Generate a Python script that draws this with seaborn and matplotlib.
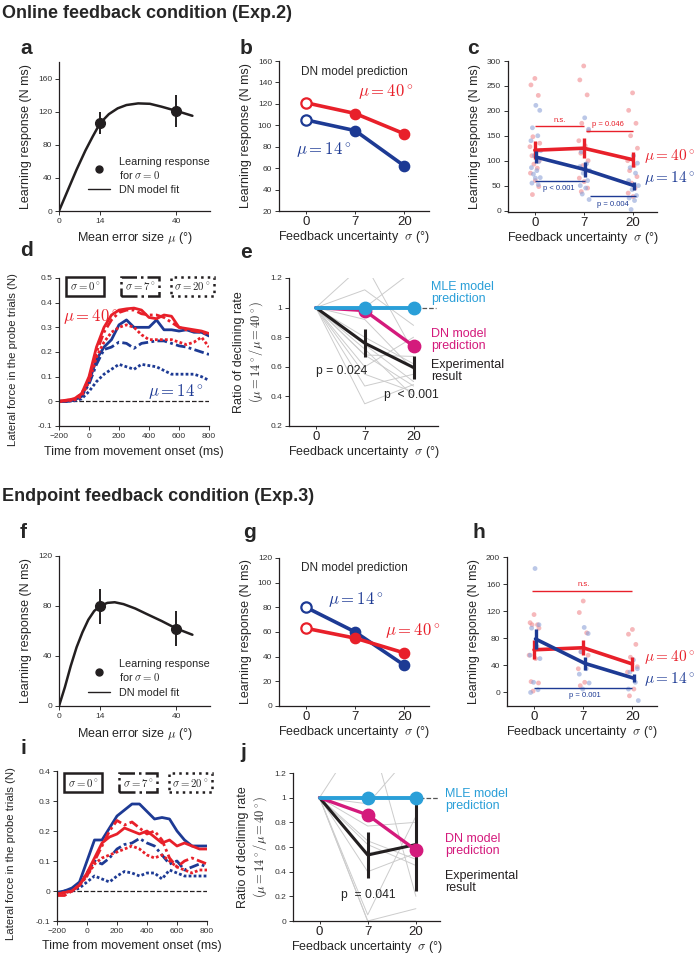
import numpy as np
import pandas as pd
import seaborn as sns
import matplotlib.pyplot as plt
from matplotlib.lines import Line2D

# ---------------- data ----------------
sigma_labels = ["0", "7", "20"]
mu_points = [14, 40]

# a / f : learning response for sigma = 0 and DN model fit
a_resp = [106, 121]
a_err = [13, 19]
a_fit_mu = [0, 3, 6, 9, 11.5, 14, 17, 20, 23, 27, 31, 35, 40, 45.5]
a_fit = [0, 25, 50, 73, 90, 106, 117, 124, 128, 130, 129.5, 126, 121, 115]

f_resp = [80, 62]
f_err = [14, 14]
f_fit_mu = [0, 2, 4, 6, 8, 10, 12, 14, 16.5, 19, 22, 26, 30, 35, 40, 45.5]
f_fit = [0, 15, 32, 47, 59, 69, 76, 80, 82.5, 83, 81.5, 78, 73.5, 68, 62, 57]

# b / g : DN model prediction
b_mu40 = [121, 111, 92]
b_mu14 = [105, 95, 62]
g_mu40 = [63, 55, 43]
g_mu14 = [80, 60, 33]

# c / h : experimental means
c_mu40 = [121, 125, 102]
c_mu40_err = [18, 20, 15]
c_mu14 = [107, 82, 50]
c_mu14_err = [12, 15, 8]
h_mu40 = [63, 66, 42]
h_mu40_err = [14, 11, 10]
h_mu14 = [79, 43, 21]
h_mu14_err = [15, 10, 6]

# individual participants (c, h)
c_pts40 = [[265, 252, 231, 148, 135, 128, 118, 110, 100, 93, 85, 75, 60, 48, 32],
           [290, 262, 232, 175, 160, 140, 130, 115, 100, 90, 80, 65, 58, 45, 38],
           [236, 201, 175, 150, 125, 100, 90, 80, 68, 55, 45, 35, 28]]
c_pts14 = [[211, 201, 166, 150, 140, 120, 110, 98, 86, 80, 73, 66, 65, 55, 52],
           [186, 163, 118, 94, 88, 80, 75, 60, 50, 45, 33, 22],
           [110, 95, 86, 75, 60, 50, 42, 30, 25, 20, 2]]
h_pts40 = [[115, 103, 100, 100, 95, 55, 50, 16, 14, 2],
           [135, 118, 88, 60, 55, 35, 15, 10],
           [93, 86, 71, 52, 38, 30, 5, -5]]
h_pts14 = [[183, 100, 95, 68, 55, 50, 15, 4, 0],
           [96, 87, 60, 35, 27, 14, 5],
           [48, 35, 30, 15, 5, -12]]

# d / i : lateral force time courses (every 50 ms from -200 to 800)
time_ms = list(range(-200, 801, 50))
d_force = {
    (40, 0): [0, 0.005, 0.01, 0.03, 0.10, 0.22, 0.30, 0.35, 0.37, 0.375, 0.378, 0.37, 0.34, 0.335,
              0.35, 0.345, 0.30, 0.295, 0.29, 0.285, 0.275],
    (40, 7): [0, 0.003, 0.01, 0.03, 0.09, 0.20, 0.28, 0.33, 0.36, 0.37, 0.37, 0.355, 0.35, 0.35,
              0.34, 0.32, 0.30, 0.29, 0.285, 0.28, 0.27],
    (40, 20): [0, 0.002, 0.005, 0.02, 0.08, 0.18, 0.24, 0.28, 0.30, 0.31, 0.30, 0.27, 0.25, 0.25,
               0.25, 0.25, 0.24, 0.23, 0.24, 0.26, 0.22],
    (14, 0): [0, 0, 0.005, 0.02, 0.08, 0.17, 0.22, 0.25, 0.31, 0.33, 0.30, 0.30, 0.30, 0.33,
              0.29, 0.29, 0.285, 0.29, 0.28, 0.28, 0.265],
    (14, 7): [0, 0, 0.005, 0.02, 0.07, 0.15, 0.21, 0.22, 0.24, 0.235, 0.215, 0.235, 0.24, 0.245,
              0.245, 0.235, 0.225, 0.22, 0.21, 0.20, 0.19],
    (14, 20): [0, 0, 0.002, 0.01, 0.04, 0.08, 0.11, 0.13, 0.15, 0.14, 0.13, 0.15, 0.145, 0.14,
               0.125, 0.11, 0.11, 0.11, 0.11, 0.10, 0.085],
}
i_force = {
    (14, 0): [-0.01, 0.0, 0.01, 0.03, 0.10, 0.17, 0.17, 0.21, 0.25, 0.27, 0.29, 0.29, 0.265, 0.24,
              0.245, 0.24, 0.20, 0.17, 0.15, 0.15, 0.15],
    (40, 0): [-0.01, -0.005, 0.0, 0.02, 0.06, 0.11, 0.16, 0.18, 0.19, 0.21, 0.20, 0.19, 0.20, 0.18,
              0.16, 0.17, 0.15, 0.16, 0.15, 0.14, 0.14],
    (40, 7): [-0.015, -0.015, 0.0, 0.02, 0.05, 0.10, 0.15, 0.20, 0.235, 0.22, 0.23, 0.21, 0.19, 0.20,
              0.17, 0.11, 0.08, 0.10, 0.11, 0.10, 0.09],
    (14, 7): [-0.005, 0.0, 0.005, 0.02, 0.06, 0.10, 0.09, 0.11, 0.14, 0.155, 0.16, 0.175, 0.16, 0.15,
              0.12, 0.09, 0.10, 0.07, 0.08, 0.09, 0.08],
    (40, 20): [-0.01, -0.005, 0.0, 0.02, 0.05, 0.09, 0.11, 0.12, 0.13, 0.14, 0.15, 0.14, 0.12, 0.11,
               0.12, 0.10, 0.08, 0.07, 0.06, 0.07, 0.07],
    (14, 20): [-0.01, -0.005, 0.0, 0.01, 0.03, 0.05, 0.04, 0.03, 0.05, 0.065, 0.06, 0.05, 0.06, 0.06,
               0.04, 0.07, 0.06, 0.05, 0.05, 0.05, 0.05],
}

# e / j : ratio of declining rate
e_mle = [1, 1, 1]
e_dn = [1, 0.98, 0.74]
e_exp = [1, 0.76, 0.595]
e_exp_err = [0, 0.095, 0.075]
e_subj7 = [1.30, 1.12, 1.00, 0.92, 0.80, 0.75, 0.68, 0.68, 0.60, 0.55, 0.47, 0.35, 0.72]
e_subj20 = [0.70, 0.88, 1.25, 0.58, 0.62, 0.50, 0.67, 0.47, 0.80, 0.43, 0.55, 0.48, 0.40]

j_mle = [1, 1, 1]
j_dn = [1, 0.86, 0.575]
j_exp = [1, 0.535, 0.62]
j_exp_err = [0, 0.185, 0.375]
j_subj7 = [1.60, 0.95, 0.77, 0.65, 0.55, 0.40, 0.05, 0.0, 0.0, 0.62]
j_subj20 = [0.20, 1.40, 0.80, 0.50, 0.62, 0.55, 0.85, 0.0, 0.10, 0.45]

# ---------------- style ----------------
sns.set_theme(style="ticks")
plt.rcParams['font.family'] = ['Liberation Sans', 'DejaVu Sans']
plt.rcParams['mathtext.fontset'] = 'cm'

RED = '#e8202a'
BLUE = '#1d3a94'
MLE_C = '#2a9fd8'
DN_C = '#d41a7c'
BLK = '#231f20'
JIT = [0.0, -0.08, 0.07, -0.04, 0.10, -0.10, 0.03, -0.06, 0.09, -0.02, 0.05, -0.09, 0.01, 0.08, -0.05]
pos = np.arange(3)

fig = plt.figure(figsize=(7, 9.58), dpi=100)


def add_ax(l, t, r, b):
    return fig.add_axes([l / 700, 1 - b / 958, (r - l) / 700, (b - t) / 958])


def style(ax):
    sns.despine(ax=ax)
    ax.tick_params(axis='both', length=3, width=0.7, labelsize=6, colors='#333333', pad=2)
    for s in ['left', 'bottom']:
        ax.spines[s].set_linewidth(0.9)
        ax.spines[s].set_color(BLK)


def cat_x(ax):
    ax.set_xlim(-0.55, 2.5)
    ax.set_xticks(pos)
    ax.set_xticklabels(sigma_labels)
    ax.tick_params(axis='x', labelsize=9.5, labelcolor=BLK, length=2, pad=1.5)
    ax.set_xlabel(r"Feedback uncertainty  $\sigma$ (°)", fontsize=9, labelpad=1)


def letter(x, y, s):
    fig.text(x / 700, 1 - y / 958, s, fontsize=15, fontweight='bold', va='center', ha='left')


def panel_fit(ax, resp, err, fit_mu, fit, ylim, yticks, leg_y):
    sns.lineplot(x=fit_mu, y=fit, ax=ax, color=BLK, lw=1.8)
    ax.errorbar(mu_points, resp, yerr=err, fmt='o', color=BLK, ms=7, elinewidth=1.4, capsize=0)
    ax.set_xlim(0, 51.5)
    ax.set_ylim(*ylim)
    ax.set_xticks([0, 14, 40])
    ax.set_yticks(yticks)
    style(ax)
    ax.set_xlabel(r"Mean error size $\mu$ (°)", fontsize=9)
    ax.set_ylabel("Learning response (N ms)", fontsize=9)
    handles = [Line2D([], [], marker='o', ls='', color=BLK, ms=5),
               Line2D([], [], color=BLK, lw=1)]
    labels = ["Learning response\nfor $\\sigma = 0$", "DN model fit"]
    ax.legend(handles, labels, loc='lower left', bbox_to_anchor=(0.13, leg_y), frameon=False,
              fontsize=7.8, handlelength=2, handletextpad=0.8, labelspacing=0.4)


def panel_dn(ax, v40, v14, ylim, yticks, order):
    df = pd.DataFrame({'pos': np.tile(pos, 2), 'resp': v40 + v14,
                       'mu': ['40'] * 3 + ['14'] * 3})
    for mu in order:
        sub = df[df.mu == mu]
        col = RED if mu == '40' else BLUE
        sns.lineplot(data=sub, x='pos', y='resp', ax=ax, color=col, lw=2.6)
        ax.scatter(sub.pos[1:], sub.resp[1:], s=55, color=col, zorder=3)
        ax.scatter(sub.pos[:1], sub.resp[:1], s=55, facecolor='white', edgecolor=col, lw=1.6, zorder=3)
    ax.set_ylim(*ylim)
    ax.set_yticks(yticks)
    style(ax)
    cat_x(ax)
    ax.set_ylabel("Learning response (N ms)", fontsize=9)
    ax.text(-0.1, ylim[1] - (ylim[1] - ylim[0]) * 0.07, "DN model prediction", fontsize=8.5, va='center')


def panel_exp(ax, m40, e40, m14, e14, p40, p14, ylim, yticks):
    rows = []
    for k in range(3):
        for j, v in enumerate(p40[k]):
            rows.append({'x': pos[k] + JIT[j], 'y': v, 'mu': '40'})
        for j, v in enumerate(p14[k]):
            rows.append({'x': pos[k] - JIT[j] + 0.02, 'y': v, 'mu': '14'})
    pts = pd.DataFrame(rows)
    sns.scatterplot(data=pts, x='x', y='y', hue='mu', palette={'40': '#f08a8e', '14': '#8ea3d8'},
                    s=12, alpha=0.6, linewidth=0, legend=False, ax=ax)
    sns.lineplot(x=pos, y=m40, ax=ax, color=RED, lw=2.6)
    ax.errorbar(pos, m40, yerr=e40, fmt='none', ecolor=RED, elinewidth=2.4, capsize=0)
    sns.lineplot(x=pos + 0.03, y=m14, ax=ax, color=BLUE, lw=2.6)
    ax.errorbar(pos + 0.03, m14, yerr=e14, fmt='none', ecolor=BLUE, elinewidth=2.4, capsize=0)
    ax.set_ylim(*ylim)
    ax.set_yticks(yticks)
    style(ax)
    cat_x(ax)
    ax.set_ylabel("Learning response (N ms)", fontsize=9)


def panel_force(ax, force, ylim, yticks, box_y):
    rows = []
    for (mu, sg), vals in force.items():
        for t, v in zip(time_ms, vals):
            rows.append({'t': t, 'f': v, 'mu': mu, 'sigma': sg})
    df = pd.DataFrame(rows)
    ax.hlines(0, -200, 800, colors=BLK, linestyles='--', lw=0.9)
    sns.lineplot(data=df, x='t', y='f', hue='mu', style='sigma', palette={40: RED, 14: BLUE},
                 dashes={0: '', 7: (3.5, 1.2, 1, 1.2), 20: (1, 0.8)}, lw=2.0, legend=False, ax=ax)
    ax.set_xlim(-200, 800)
    ax.set_ylim(*ylim)
    ax.set_xticks(range(-200, 801, 200))
    ax.set_yticks(yticks)
    ax.set_yticklabels([("%g" % v) for v in yticks])
    style(ax)
    ax.set_xlabel("Time from movement onset (ms)", fontsize=9)
    ax.set_ylabel("Lateral force in the probe trials (N)", fontsize=8.2)
    ax.yaxis.set_label_coords(-0.27, 0.45)
    for tx, s, ls in [(-25, r"$\sigma = 0^\circ$", '-'), (340, r"$\sigma = 7^\circ$", '-.'),
                      (690, r"$\sigma = 20^\circ$", ':')]:
        ax.text(tx, box_y, s, fontsize=7.8, ha='center', va='center', clip_on=False,
                bbox=dict(boxstyle='square,pad=0.35', fc='white', ec=BLK, lw=1.8, ls=ls))


def panel_ratio(ax, mle, dn, exp, exp_err, s7, s20, ylim, yticks):
    rows = []
    for k, (a, b) in enumerate(zip(s7, s20)):
        for p, v in zip(pos, [1, a, b]):
            rows.append({'subj': k, 'x': p, 'r': v})
    subj = pd.DataFrame(rows)
    sns.lineplot(data=subj, x='x', y='r', units='subj', estimator=None, color='#cccccc', lw=0.7, ax=ax)
    ax.hlines(1, 0, 2.45, colors='#555555', linestyles='--', lw=0.9)
    sns.lineplot(x=pos, y=exp, ax=ax, color=BLK, lw=2.2)
    ax.errorbar(pos[1:], exp[1:], yerr=exp_err[1:], fmt='none', ecolor=BLK, elinewidth=2.2, capsize=0)
    sns.lineplot(x=pos, y=dn, ax=ax, color=DN_C, lw=2.4)
    ax.scatter(pos[1:], dn[1:], s=80, color=DN_C, zorder=4)
    sns.lineplot(x=pos, y=mle, ax=ax, color=MLE_C, lw=2.8)
    ax.scatter(pos[1:], mle[1:], s=80, color=MLE_C, zorder=4)
    ax.set_ylim(*ylim)
    ax.set_yticks(yticks)
    ax.set_yticklabels([("%g" % v) for v in yticks])
    style(ax)
    cat_x(ax)
    ax.set_ylabel("Ratio of declining rate\n" + r"$(\mu = 14^\circ/\mu = 40^\circ)$", fontsize=9)


# ---------------- titles ----------------
fig.text(2 / 700, 1 - 13 / 958, "Online feedback condition (Exp.2)", fontsize=13, fontweight='bold', va='center')
fig.text(2 / 700, 1 - 497 / 958, "Endpoint feedback condition (Exp.3)", fontsize=13, fontweight='bold', va='center')

# ---------------- Exp.2 ----------------
letter(20, 48, 'a')
ax = add_ax(59, 62, 210, 211)
panel_fit(ax, a_resp, a_err, a_fit_mu, a_fit, (0, 180), range(0, 161, 40), 0.04)

letter(240, 48, 'b')
ax = add_ax(279, 61, 429, 211)
panel_dn(ax, b_mu40, b_mu14, (20, 160), range(20, 161, 20), ['40', '14'])
ax.text(1.05, 127, r"$\mu = 40^\circ$", color=RED, fontsize=12)
ax.text(-0.2, 73, r"$\mu = 14^\circ$", color=BLUE, fontsize=12)

letter(467, 48, 'c')
ax = add_ax(508, 61, 657, 212)
panel_exp(ax, c_mu40, c_mu40_err, c_mu14, c_mu14_err, c_pts40, c_pts14, (-3, 300), range(0, 301, 50))
ax.hlines(169, 0.01, 1.0, colors=RED, lw=1)
ax.text(0.5, 174, "n.s.", color=RED, fontsize=5.5, ha='center', va='bottom')
ax.hlines(160, 1.04, 2.01, colors=RED, lw=1)
ax.text(1.5, 165, "p = 0.046", color=RED, fontsize=5.5, ha='center', va='bottom')
ax.hlines(59, 0.01, 1.02, colors=BLUE, lw=1)
ax.text(0.5, 44, "p < 0.001", color=BLUE, fontsize=5.5, ha='center', va='center')
ax.hlines(30, 1.12, 2.08, colors=BLUE, lw=1)
ax.text(1.6, 12, "p = 0.004", color=BLUE, fontsize=5.5, ha='center', va='center')
ax.text(2.24, 110, r"$\mu = 40^\circ$", color=RED, fontsize=11, va='center', clip_on=False)
ax.text(2.24, 66, r"$\mu = 14^\circ$", color=BLUE, fontsize=11, va='center', clip_on=False)

letter(20, 250, 'd')
ax = add_ax(59, 278, 209, 426)
panel_force(ax, d_force, (-0.1, 0.5), [-0.1, 0, 0.1, 0.2, 0.3, 0.4, 0.5], 0.466)
ax.text(11, 0.343, r"$\mu = 40^\circ$", color=RED, fontsize=12, ha='center', va='center')
ax.text(578, 0.038, r"$\mu = 14^\circ$", color=BLUE, fontsize=12, ha='center', va='center')

letter(240, 252, 'e')
ax = add_ax(289, 278, 438, 426)
panel_ratio(ax, e_mle, e_dn, e_exp, e_exp_err, e_subj7, e_subj20, (0.2, 1.2), [0.2, 0.4, 0.6, 0.8, 1, 1.2])
ax.text(2.35, 1.1, "MLE model\nprediction", color=MLE_C, fontsize=9, va='center', linespacing=1.0)
ax.text(2.35, 0.78, "DN model\nprediction", color=DN_C, fontsize=9, va='center', linespacing=1.0)
ax.text(2.35, 0.57, "Experimental\nresult", color=BLK, fontsize=9, va='center', linespacing=1.0)
ax.text(0.0, 0.57, "p = 0.024", fontsize=8.7, va='center')
ax.text(1.4, 0.41, "p  < 0.001", fontsize=8.7, va='center')

# ---------------- Exp.3 ----------------
letter(20, 533, 'f')
ax = add_ax(59, 556, 210, 706)
panel_fit(ax, f_resp, f_err, f_fit_mu, f_fit, (0, 120), range(0, 121, 40), -0.01)

letter(243, 533, 'g')
ax = add_ax(279, 558, 429, 706)
panel_dn(ax, g_mu40, g_mu14, (0, 120), range(0, 121, 20), ['14', '40'])
ax.text(0.45, 86, r"$\mu = 14^\circ$", color=BLUE, fontsize=12, va='center')
ax.text(1.6, 61, r"$\mu = 40^\circ$", color=RED, fontsize=12, va='center')

letter(472, 533, 'h')
ax = add_ax(507, 557, 657, 706)
panel_exp(ax, h_mu40, h_mu40_err, h_mu14, h_mu14_err, h_pts40, h_pts14, (-20, 200), range(0, 201, 40))
ax.hlines(150, -0.04, 1.99, colors=RED, lw=1)
ax.text(1.0, 154, "n.s.", color=RED, fontsize=5.5, ha='center', va='bottom')
ax.hlines(6, 0.0, 2.0, colors=BLUE, lw=1)
ax.text(1.04, -5, "p = 0.001", color=BLUE, fontsize=5.5, ha='center', va='center')
ax.text(2.24, 52, r"$\mu = 40^\circ$", color=RED, fontsize=11, va='center', clip_on=False)
ax.text(2.24, 20, r"$\mu = 14^\circ$", color=BLUE, fontsize=11, va='center', clip_on=False)

letter(20, 748, 'i')
ax = add_ax(57, 771, 207, 921)
panel_force(ax, i_force, (-0.1, 0.4), [-0.1, 0, 0.1, 0.2, 0.3, 0.4], 0.361)

letter(240, 753, 'j')
ax = add_ax(293, 773, 440, 921)
panel_ratio(ax, j_mle, j_dn, j_exp, j_exp_err, j_subj7, j_subj20, (0, 1.2), [0, 0.2, 0.4, 0.6, 0.8, 1, 1.2])
ax.text(2.6, 0.98, "MLE model\nprediction", color=MLE_C, fontsize=9, va='center', linespacing=1.0,
        clip_on=False)
ax.text(2.6, 0.62, "DN model\nprediction", color=DN_C, fontsize=9, va='center', linespacing=1.0,
        clip_on=False)
ax.text(2.6, 0.32, "Experimental\nresult", color=BLK, fontsize=9, va='center', linespacing=1.0,
        clip_on=False)
ax.text(0.44, 0.21, "p  = 0.041", fontsize=8.7, va='center')

fig.savefig("out.png", dpi=100)
